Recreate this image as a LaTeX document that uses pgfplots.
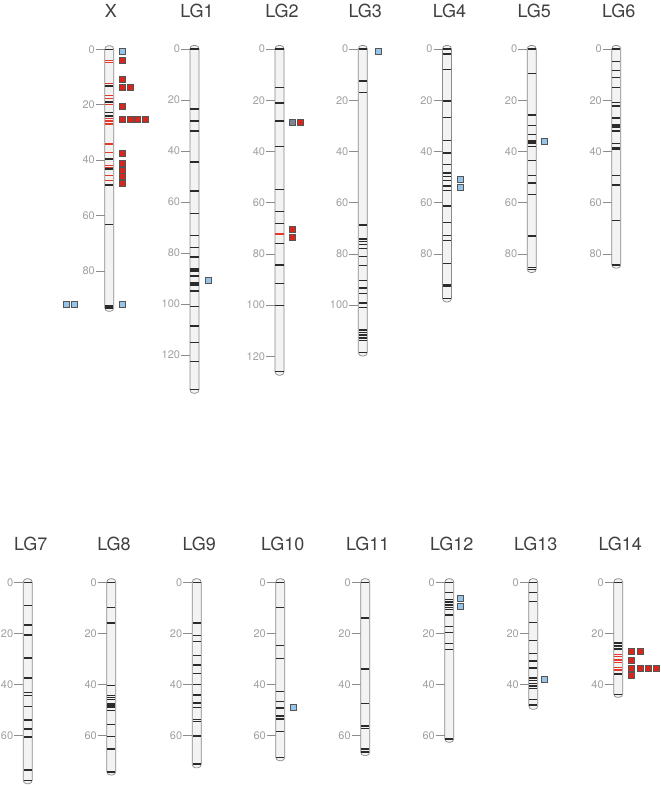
\documentclass[border=0pt]{standalone}
\usepackage{pgfplots}
\pgfplotsset{compat=1.18}
\usepackage{fontspec}
\setmainfont{TeX Gyre Heros}
\definecolor{bodyfill}{HTML}{F3F3F3}
\definecolor{bodydraw}{HTML}{8A8A8A}
\definecolor{mkcol}{HTML}{2B2B2B}
\definecolor{redline}{HTML}{E5392E}
\definecolor{qred}{HTML}{D8261C}
\definecolor{qblue}{HTML}{94C4EA}
\definecolor{qgray}{HTML}{7D8794}
\definecolor{sqdraw}{HTML}{555555}
\definecolor{tickgray}{HTML}{8C8C8C}
\definecolor{labgray}{HTML}{A0A0A0}
\definecolor{titlecol}{HTML}{404040}
\pgfplotsset{
  chrom/.style={
    anchor=origin, x=1pt, y dir=reverse,
    xmin=-13.5, xmax=40, enlargelimits=false, clip=false,
    axis line style={draw=none}, xtick=\empty, ytick distance=20,
    minor tick num=0,
    ytick pos=left, tick align=inside, major tick length=9pt,
    tick style={draw=tickgray, line width=0.6pt},
    yticklabel style={font=\fontsize{11}{12}\selectfont, text=labgray, inner sep=0.8pt},
    /pgf/number format/assume math mode=true,
  },
  body/.style={fill=bodyfill, draw=bodydraw, line width=0.7pt, rounded corners=3.5pt},
  mk/.style={only marks, mark=-, mark size=4.1pt, mark options={draw=mkcol, line width=1.5pt}},
  rl/.style={only marks, mark=-, mark size=4.1pt, mark options={draw=redline, line width=1.2pt}},
  sq/.style={only marks, mark=square*, mark size=3pt, mark options={fill=#1, draw=sqdraw, line width=0.5pt}},
}
\tikzset{ctitle/.style={anchor=base, yshift=31.6pt, font=\fontsize{18}{18}\selectfont, text=titlecol}}
\begin{document}
\begin{tikzpicture}
\path[use as bounding box] (0,0) rectangle (661pt,-788pt);

% ---------- X ----------
\begin{axis}[chrom, at={(109.3pt,-49.3pt)}, y=2.77pt, ymin=-1.3, ymax=94.6]
\addplot[body] coordinates {(-4.5,-1.3) (4.5,-1.3) (4.5,94.6) (-4.5,94.6)} -- cycle;
\addplot[mk] table[header=false, x expr=0, y index=0, row sep=\\] {0\\13.2\\19.1\\22.9\\24.0\\39.6\\43.2\\49.0\\63.2\\92.6\\93.4\\};
\addplot[rl] table[header=false, x expr=0, y index=0, row sep=\\] {4.1\\4.8\\12.3\\16.7\\17.9\\19.9\\25.0\\25.9\\27.0\\34.2\\37.2\\41.9\\42.6\\45.5\\47.5\\};
\addplot[sq=qred] coordinates {(13,4.0) (13,10.7) (13,13.6) (20.7,13.6) (13,20.5) (13,25.2) (20.7,25.2) (28.3,25.2) (36,25.2) (13,37.4) (13,41.1) (13,43.5) (13,45.9) (13,48.3)};
\addplot[sq=qblue] coordinates {(13,0.6) (13,92.2) (-43.3,92.2) (-35.3,92.2)};
\node[ctitle] at (axis cs:1.5,0) {X};
\end{axis}

% ---------- LG1 ----------
\begin{axis}[chrom, at={(194.5pt,-49pt)}, y=2.55pt, ymin=-1.4, ymax=135.0]
\addplot[body] coordinates {(-4.5,-1.4) (4.5,-1.4) (4.5,135.0) (-4.5,135.0)} -- cycle;
\addplot[mk] table[header=false, x expr=0, y index=0, row sep=\\] {0\\23.6\\28.2\\32.2\\44.3\\55.7\\64.5\\73.1\\77.8\\81.5\\86.3\\87.1\\89.1\\91.8\\92.6\\94.9\\100.9\\108.6\\115.0\\122.6\\133.6\\};
\addplot[sq=qblue] coordinates {(14,90.8)};
\node[ctitle] at (axis cs:2.5,0) {LG1};
\end{axis}

% ---------- LG2 ----------
\begin{axis}[chrom, at={(279.5pt,-49pt)}, y=2.56pt, ymin=-1.4, ymax=127.4]
\addplot[body] coordinates {(-4.5,-1.4) (4.5,-1.4) (4.5,127.4) (-4.5,127.4)} -- cycle;
\addplot[mk] table[header=false, x expr=0, y index=0, row sep=\\] {0\\15.0\\21.0\\28.1\\38.0\\54.8\\63.5\\68.1\\75.9\\84.4\\91.5\\100.1\\126.0\\};
\addplot[rl] table[header=false, x expr=0, y index=0, row sep=\\] {72.3\\};
\addplot[sq=qgray] coordinates {(13,28.6)};
\addplot[sq=qred] coordinates {(21,28.6) (13,70.4) (13,73.4)};
\node[ctitle] at (axis cs:2.5,0) {LG2};
\end{axis}

% ---------- LG3 ----------
\begin{axis}[chrom, at={(362.8pt,-49pt)}, y=2.56pt, ymin=-1.4, ymax=119.9]
\addplot[body] coordinates {(-4.5,-1.4) (4.5,-1.4) (4.5,119.9) (-4.5,119.9)} -- cycle;
\addplot[mk] table[header=false, x expr=0, y index=0, row sep=\\] {0\\12.5\\17.0\\68.8\\74.2\\75.2\\76.4\\78.0\\81.1\\84.6\\90.5\\93.3\\95.6\\99.3\\100.9\\109.8\\110.7\\111.8\\112.9\\113.9\\118.6\\};
\addplot[sq=qblue] coordinates {(15,0.8)};
\node[ctitle] at (axis cs:2.5,0) {LG3};
\end{axis}

% ---------- LG4 ----------
\begin{axis}[chrom, at={(447pt,-49pt)}, y=2.56pt, ymin=-1.4, ymax=98.8]
\addplot[body] coordinates {(-4.5,-1.4) (4.5,-1.4) (4.5,98.8) (-4.5,98.8)} -- cycle;
\addplot[mk] table[header=false, x expr=0, y index=0, row sep=\\] {0\\2.0\\8.1\\20.4\\26.8\\35.7\\40.7\\45.2\\48.5\\49.8\\51.4\\53.5\\55.3\\61.3\\67.8\\72.8\\74.8\\83.7\\91.9\\92.5\\97.5\\};
\addplot[sq=qblue] coordinates {(13.7,51.0) (13.7,54.1)};
\node[ctitle] at (axis cs:2.5,0) {LG4};
\end{axis}

% ---------- LG5 ----------
\begin{axis}[chrom, at={(531.7pt,-49pt)}, y=2.56pt, ymin=-1.4, ymax=87.3]
\addplot[body] coordinates {(-4.5,-1.4) (4.5,-1.4) (4.5,87.3) (-4.5,87.3)} -- cycle;
\addplot[mk] table[header=false, x expr=0, y index=0, row sep=\\] {0\\9.6\\25.7\\29.9\\33.3\\35.9\\36.8\\38.1\\43.6\\49.5\\52.3\\56.8\\73.1\\85.4\\86.1\\};
\addplot[sq=qblue] coordinates {(12.3,35.9)};
\node[ctitle] at (axis cs:2.5,0) {LG5};
\end{axis}

% ---------- LG6 ----------
\begin{axis}[chrom, at={(616.3pt,-49pt)}, y=2.56pt, ymin=-1.4, ymax=85.6]
\addplot[body] coordinates {(-4.5,-1.4) (4.5,-1.4) (4.5,85.6) (-4.5,85.6)} -- cycle;
\addplot[mk] table[header=false, x expr=0, y index=0, row sep=\\] {0\\4.8\\8.3\\11.2\\15.1\\20.9\\22.2\\26.9\\29.4\\30.0\\30.6\\32.1\\36.9\\38.4\\39.1\\49.5\\53.1\\67.0\\84.3\\};
\node[ctitle] at (axis cs:2.5,0) {LG6};
\end{axis}

% ---------- LG7 ----------
\begin{axis}[chrom, at={(27.7pt,-582.3pt)}, y=2.556pt, ymin=-1.4, ymax=78.8]
\addplot[body] coordinates {(-4.5,-1.4) (4.5,-1.4) (4.5,78.8) (-4.5,78.8)} -- cycle;
\addplot[mk] table[header=false, x expr=0, y index=0, row sep=\\] {0\\9.1\\16.7\\20.7\\29.7\\37.4\\43.2\\44.3\\48.5\\53.9\\57.4\\60.5\\73.4\\77.6\\};
\node[ctitle] at (axis cs:3,0) {LG7};
\end{axis}

% ---------- LG8 ----------
\begin{axis}[chrom, at={(111.3pt,-582.3pt)}, y=2.556pt, ymin=-1.4, ymax=75.4]
\addplot[body] coordinates {(-4.5,-1.4) (4.5,-1.4) (4.5,75.4) (-4.5,75.4)} -- cycle;
\addplot[mk] table[header=false, x expr=0, y index=0, row sep=\\] {0\\9.8\\16.0\\40.4\\44.3\\45.0\\45.8\\47.7\\48.3\\48.7\\50.2\\55.6\\60.4\\65.2\\74.2\\};
\node[ctitle] at (axis cs:2.7,0) {LG8};
\end{axis}

% ---------- LG9 ----------
\begin{axis}[chrom, at={(196.7pt,-582.3pt)}, y=2.556pt, ymin=-1.4, ymax=72.6]
\addplot[body] coordinates {(-4.5,-1.4) (4.5,-1.4) (4.5,72.6) (-4.5,72.6)} -- cycle;
\addplot[mk] table[header=false, x expr=0, y index=0, row sep=\\] {0\\16.0\\20.9\\23.2\\28.7\\32.3\\35.7\\39.9\\44.1\\47.3\\49.0\\53.6\\54.4\\60.1\\71.1\\};
\node[ctitle] at (axis cs:2.5,0) {LG9};
\end{axis}

% ---------- LG10 ----------
\begin{axis}[chrom, at={(280.3pt,-582.3pt)}, y=2.556pt, ymin=-1.4, ymax=69.8]
\addplot[body] coordinates {(-4.5,-1.4) (4.5,-1.4) (4.5,69.8) (-4.5,69.8)} -- cycle;
\addplot[mk] table[header=false, x expr=0, y index=0, row sep=\\] {0\\9.8\\24.7\\29.9\\42.8\\46.7\\49.2\\52.4\\53.5\\58.3\\68.6\\};
\addplot[sq=qblue] coordinates {(13,49.0)};
\node[ctitle] at (axis cs:2.5,0) {LG10};
\end{axis}

% ---------- LG11 ----------
\begin{axis}[chrom, at={(365.2pt,-582.3pt)}, y=2.556pt, ymin=-1.4, ymax=67.8]
\addplot[body] coordinates {(-4.5,-1.4) (4.5,-1.4) (4.5,67.8) (-4.5,67.8)} -- cycle;
\addplot[mk] table[header=false, x expr=0, y index=0, row sep=\\] {0\\14.0\\34.0\\47.5\\56.2\\57.1\\65.3\\66.4\\};
\node[ctitle] at (axis cs:2.5,0) {LG11};
\end{axis}

% ---------- LG12 ----------
\begin{axis}[chrom, at={(449.3pt,-582.3pt)}, y=2.556pt, ymin=-1.4, ymax=62.6]
\addplot[body] coordinates {(-4.5,-1.4) (4.5,-1.4) (4.5,62.6) (-4.5,62.6)} -- cycle;
\addplot[mk] table[header=false, x expr=0, y index=0, row sep=\\] {0\\3.9\\6.8\\7.8\\8.9\\9.9\\10.7\\12.7\\17.2\\19.6\\23.9\\26.3\\61.3\\};
\addplot[sq=qblue] coordinates {(11.3,6.4) (11.3,9.5)};
\node[ctitle] at (axis cs:2.5,0) {LG12};
\end{axis}

% ---------- LG13 ----------
\begin{axis}[chrom, at={(533.3pt,-582.3pt)}, y=2.556pt, ymin=-1.4, ymax=49.7]
\addplot[body] coordinates {(-4.5,-1.4) (4.5,-1.4) (4.5,49.7) (-4.5,49.7)} -- cycle;
\addplot[mk] table[header=false, x expr=0, y index=0, row sep=\\] {0\\3.9\\7.5\\15.8\\22.7\\27.8\\30.8\\33.6\\37.5\\38.4\\39.6\\40.6\\41.6\\45.8\\48.0\\};
\addplot[sq=qblue] coordinates {(11,38.0)};
\node[ctitle] at (axis cs:2.5,0) {LG13};
\end{axis}

% ---------- LG14 ----------
\begin{axis}[chrom, at={(618.2pt,-582.3pt)}, y=2.556pt, ymin=-1.4, ymax=45.0]
\addplot[body] coordinates {(-4.5,-1.4) (4.5,-1.4) (4.5,45.0) (-4.5,45.0)} -- cycle;
\addplot[mk] table[header=false, x expr=0, y index=0, row sep=\\] {0\\23.8\\24.9\\26.1\\35.8\\43.8\\};
\addplot[rl] table[header=false, x expr=0, y index=0, row sep=\\] {28.2\\29.1\\30.4\\31.4\\33.4\\34.3\\};
\addplot[sq=qred] coordinates {(13.5,27.1) (21.8,27.1) (13.5,30.4) (13.5,33.5) (21.8,33.5) (30.1,33.5) (38.4,33.5) (13.5,36.4)};
\node[ctitle] at (axis cs:2,0) {LG14};
\end{axis}
\end{tikzpicture}
\end{document}
